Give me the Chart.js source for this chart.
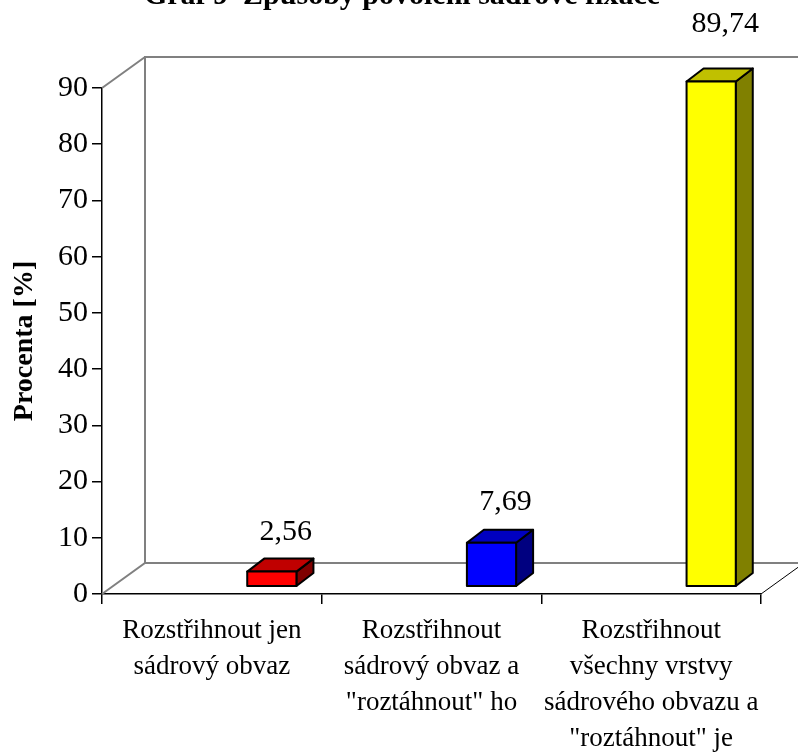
<!DOCTYPE html>
<html>
<head>
<meta charset="utf-8">
<script src="https://cdn.jsdelivr.net/npm/chart.js@4/dist/chart.umd.min.js"></script>
<style>
  html, body { margin: 0; padding: 0; background: #fff; }
  #wrap { width: 798px; height: 753px; }
</style>
</head>
<body>
<div id="wrap"><canvas id="c" width="798" height="753"></canvas></div>
<script>
// Chart content
const chartTitle = 'Graf 9  Způsoby povolení sádrové fixace';
const axisTitle = 'Procenta [%]';
const categories = [
  ['Rozstřihnout jen', 'sádrový obvaz'],
  ['Rozstřihnout', 'sádrový obvaz a', '"roztáhnout" ho'],
  ['Rozstřihnout', 'všechny vrstvy', 'sádrového obvazu a', '"roztáhnout" je']
];
const percentValues = [2.56, 7.69, 89.74];
const yTickValues = [0, 10, 20, 30, 40, 50, 60, 70, 80, 90];

// Colours of each box: front, top, side
const frontColors = ['#ff0000', '#0000ff', '#ffff00'];
const topColors = ['#c00000', '#0000c0', '#c0c000'];
const sideColors = ['#800000', '#000080', '#808000'];

const FONT = "'Liberation Serif', 'Times New Roman', serif";

// Depth of the 3D frame (walls) and of the boxes
const WALL_DX = 43, WALL_DY = -31;
const BOX_DX = 17, BOX_DY = -13;
const BOX_SHIFT_X = 60, BOX_SHIFT_Y = -8;

const fmt = v => v.toFixed(2).replace('.', ',');

const frame3d = {
  id: 'frame3d',
  beforeDatasetsDraw(chart) {
    const { ctx, chartArea: a } = chart;
    ctx.save();
    ctx.strokeStyle = '#808080';
    ctx.lineWidth = 2;
    ctx.lineJoin = 'miter';
    ctx.beginPath();
    // floor-left diagonal, back vertical edge, top-left diagonal
    ctx.moveTo(a.left, a.bottom);
    ctx.lineTo(a.left + WALL_DX, a.bottom + WALL_DY);
    ctx.lineTo(a.right + WALL_DX, a.bottom + WALL_DY);
    ctx.moveTo(a.left + WALL_DX, a.bottom + WALL_DY);
    ctx.lineTo(a.left + WALL_DX, a.top + WALL_DY);
    ctx.lineTo(a.right + WALL_DX, a.top + WALL_DY);
    ctx.moveTo(a.left, a.top);
    ctx.lineTo(a.left + WALL_DX, a.top + WALL_DY);
    ctx.stroke();
    // right floor edge
    ctx.strokeStyle = '#000';
    ctx.lineWidth = 1;
    ctx.beginPath();
    ctx.moveTo(a.right, a.bottom);
    ctx.lineTo(a.right + WALL_DX, a.bottom + WALL_DY);
    ctx.stroke();
    ctx.restore();
  },
  afterDatasetsDraw(chart) {
    const { ctx } = chart;
    const yScale = chart.scales.y;
    const meta = chart.getDatasetMeta(0);
    const zeroY = yScale.getPixelForValue(0) + BOX_SHIFT_Y;
    ctx.save();
    ctx.lineWidth = 2;
    ctx.strokeStyle = '#000';
    ctx.lineJoin = 'round';
    meta.data.forEach((bar, i) => {
      const v = percentValues[i];
      const cx = bar.x + BOX_SHIFT_X;
      const x0 = cx - bar.width / 2, x1 = cx + bar.width / 2;
      const yt = yScale.getPixelForValue(v) + BOX_SHIFT_Y;
      const yb = zeroY;
      // side face
      ctx.fillStyle = sideColors[i];
      ctx.beginPath();
      ctx.moveTo(x1, yt);
      ctx.lineTo(x1 + BOX_DX, yt + BOX_DY);
      ctx.lineTo(x1 + BOX_DX, yb + BOX_DY);
      ctx.lineTo(x1, yb);
      ctx.closePath();
      ctx.fill(); ctx.stroke();
      // top face
      ctx.fillStyle = topColors[i];
      ctx.beginPath();
      ctx.moveTo(x0, yt);
      ctx.lineTo(x0 + BOX_DX, yt + BOX_DY);
      ctx.lineTo(x1 + BOX_DX, yt + BOX_DY);
      ctx.lineTo(x1, yt);
      ctx.closePath();
      ctx.fill(); ctx.stroke();
      // front face
      ctx.fillStyle = frontColors[i];
      ctx.beginPath();
      ctx.rect(x0, yt, x1 - x0, yb - yt);
      ctx.fill(); ctx.stroke();
      // value label above the box
      ctx.fillStyle = '#000';
      ctx.font = '30px ' + FONT;
      ctx.textAlign = 'center';
      ctx.textBaseline = 'middle';
      const gap = 26 + 0.2 * v;
      ctx.fillText(fmt(v), cx + 14, yt + BOX_DY - gap);
    });
    ctx.restore();
  },
  afterDraw(chart) {
    const { ctx } = chart;
    ctx.save();
    ctx.fillStyle = '#000';
    ctx.font = 'bold 30px ' + FONT;
    ctx.textAlign = 'center';
    ctx.textBaseline = 'alphabetic';
    ctx.fillText(chartTitle, 402, 4);
    ctx.restore();
  }
};

new Chart(document.getElementById('c'), {
  type: 'bar',
  data: {
    labels: categories,
    datasets: [{
      data: percentValues,
      backgroundColor: 'rgba(0,0,0,0)',
      borderWidth: 0,
      categoryPercentage: 1,
      barPercentage: 0.224
    }]
  },
  options: {
    responsive: false,
    animation: false,
    events: [],
    layout: { padding: { top: 88, right: 37, left: 0, bottom: 0 } },
    plugins: {
      legend: { display: false },
      tooltip: { enabled: false },
      title: { display: false }
    },
    scales: {
      x: {
        offset: true,
        grid: { offset: true, drawOnChartArea: false, tickLength: 10, color: '#000', lineWidth: 1.5 },
        border: { display: true, color: '#000', width: 1.5 },
        ticks: {
          autoSkip: false, maxRotation: 0, minRotation: 0, padding: 9,
          color: '#000',
          font: { family: FONT, size: 27, lineHeight: 1.333 }
        },
        afterFit(s) { s.height = 159; }
      },
      y: {
        min: 0, max: 90,
        afterBuildTicks(s) { s.ticks = yTickValues.map(v => ({ value: v })); },
        grid: { drawOnChartArea: false, tickLength: 10, color: '#000', lineWidth: 1.5 },
        border: { display: true, color: '#000', width: 1.5 },
        ticks: {
          padding: 4, color: '#000',
          font: { family: FONT, size: 30 }
        },
        title: {
          display: true, text: axisTitle, color: '#000',
          font: { family: FONT, size: 28, weight: 'bold' },
          padding: { top: 8, bottom: 0 }
        },
        afterFit(s) { s.width = 102; }
      }
    }
  },
  plugins: [frame3d]
});
</script>
</body>
</html>
